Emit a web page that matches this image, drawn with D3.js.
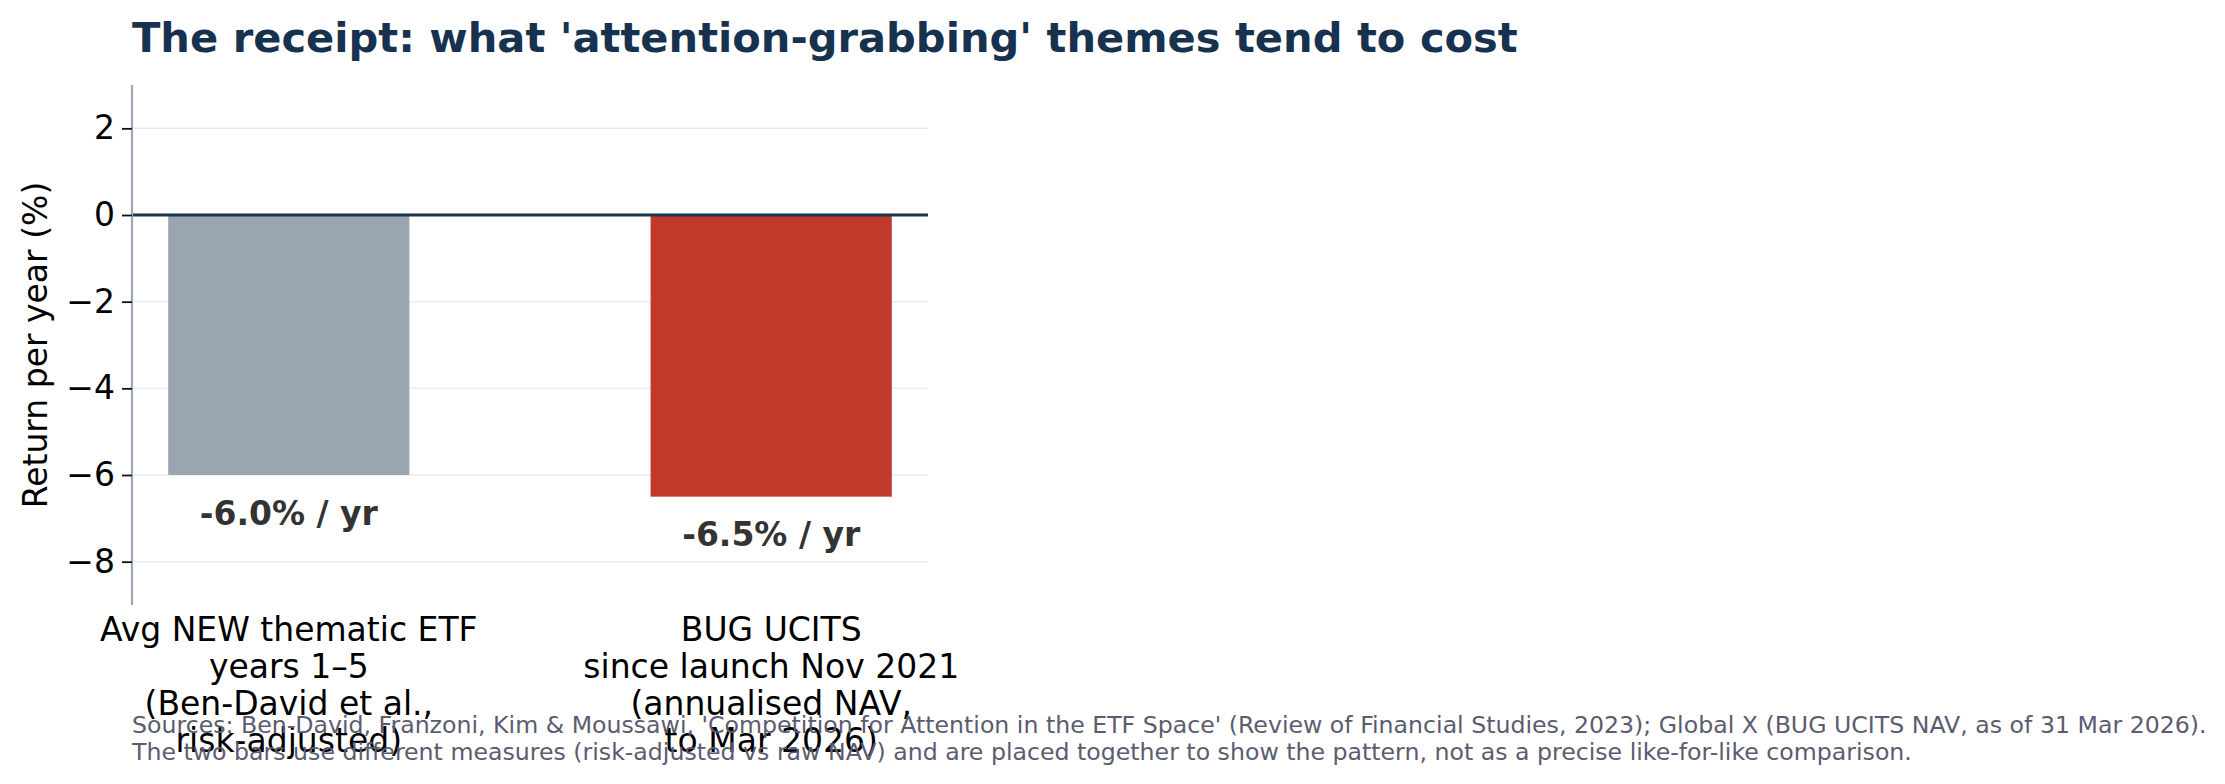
<!DOCTYPE html>
<html>
<head>
<meta charset="utf-8">
<script src="https://cdn.jsdelivr.net/npm/d3@7"></script>
<style>
  body { margin: 0; background: #fff; }
  svg text { font-family: "DejaVu Sans", sans-serif; }
</style>
</head>
<body>
<svg id="chart" width="2225" height="784"></svg>
<script>
// data
var categories = [
  ["Avg NEW thematic ETF", "years 1\u20135", "(Ben-David et al.,", "risk-adjusted)"],
  ["BUG UCITS", "since launch Nov 2021", "(annualised NAV,", "to Mar 2026)"]
];
var values = [-6.0, -6.5];
var valueLabels = ["-6.0% / yr", "-6.5% / yr"];
var barColors = ["#9aa5b1", "#c0392b"];
var yTicks = [2, 0, -2, -4, -6, -8];
var title = "The receipt: what 'attention-grabbing' themes tend to cost";
var notes = [
  "Sources: Ben-David, Franzoni, Kim & Moussawi, 'Competition for Attention in the ETF Space' (Review of Financial Studies, 2023); Global X (BUG UCITS NAV, as of 31 Mar 2026).",
  "The two bars use different measures (risk-adjusted vs raw NAV) and are placed together to show the pattern, not as a precise like-for-like comparison."
];

var svg = d3.select("#chart");
var margin = {left: 132, right: 1297, top: 85, bottom: 179};
var width = 2225 - margin.left - margin.right,
    height = 784 - margin.top - margin.bottom;

var x = d3.scaleBand()
  .domain(d3.range(values.length))
  .range([0, width])
  .paddingInner(0.5)
  .paddingOuter(0.075);

var y = d3.scaleLinear()
  .domain([-9, 3])
  .range([height, 0]);

var g = svg.append("g")
  .attr("transform", "translate(" + margin.left + "," + margin.top + ")");

// grid
g.selectAll(".grid")
  .data(yTicks)
  .enter().append("line")
  .attr("x1", 0).attr("x2", width)
  .attr("y1", function(d) { return y(d); })
  .attr("y2", function(d) { return y(d); })
  .attr("stroke", "#e9ecef")
  .attr("stroke-width", 1.5);

// bars
g.selectAll(".bar")
  .data(values)
  .enter().append("rect")
  .attr("x", function(d, i) { return x(i); })
  .attr("width", x.bandwidth())
  .attr("y", function(d) { return y(Math.max(0, d)); })
  .attr("height", function(d) { return Math.abs(y(d) - y(0)); })
  .attr("fill", function(d, i) { return barColors[i]; });

// zero line
g.append("line")
  .attr("x1", 0).attr("x2", width)
  .attr("y1", y(0)).attr("y2", y(0))
  .attr("stroke", "#1a3350")
  .attr("stroke-width", 3);

// value labels
g.selectAll(".vlabel")
  .data(values)
  .enter().append("text")
  .attr("x", function(d, i) { return x(i) + x.bandwidth() / 2; })
  .attr("y", function(d) { return y(d - 0.88); })
  .attr("dy", "0.35em")
  .attr("text-anchor", "middle")
  .attr("font-size", 33)
  .attr("font-weight", "bold")
  .attr("fill", "#333333")
  .text(function(d, i) { return valueLabels[i]; });

// y axis
var yAxis = d3.axisLeft(y).tickValues(yTicks).tickSize(10).tickPadding(7)
  .tickFormat(function(d) { return d < 0 ? "\u2212" + Math.abs(d) : d; });
var ya = g.append("g").call(yAxis);
ya.select(".domain").attr("stroke", "#9aa8b8").attr("stroke-width", 2.2).attr("d", "M0,0V" + height);
ya.selectAll(".tick line").attr("stroke", "#111").attr("stroke-width", 1.8);
ya.selectAll(".tick text").attr("font-size", 33).attr("fill", "#000").attr("font-family", "DejaVu Sans");

// x tick labels
var xl = g.selectAll(".xlabel")
  .data(categories)
  .enter().append("text")
  .attr("text-anchor", "middle")
  .attr("font-size", 33)
  .attr("fill", "#000")
  .attr("transform", function(d, i) { return "translate(" + (x(i) + x.bandwidth() / 2) + "," + (height + 36) + ")"; });
xl.selectAll("tspan")
  .data(function(d) { return d; })
  .enter().append("tspan")
  .attr("x", 0)
  .attr("y", function(d, j) { return j * 37; })
  .text(function(d) { return d; });

// y label
svg.append("text")
  .attr("transform", "translate(47,345) rotate(-90)")
  .attr("text-anchor", "middle")
  .attr("font-size", 33)
  .attr("fill", "#000")
  .text("Return per year (%)");

// title
svg.append("text")
  .attr("x", margin.left).attr("y", 52)
  .attr("font-size", 41.6)
  .attr("font-weight", "bold")
  .attr("fill", "#17324f")
  .text(title);

// footnotes
svg.selectAll(".note")
  .data(notes)
  .enter().append("text")
  .attr("x", margin.left)
  .attr("y", function(d, i) { return 733 + i * 27; })
  .attr("font-size", 23.65)
  .attr("fill", "#5b5c70")
  .text(function(d) { return d; });
</script>
</body>
</html>
